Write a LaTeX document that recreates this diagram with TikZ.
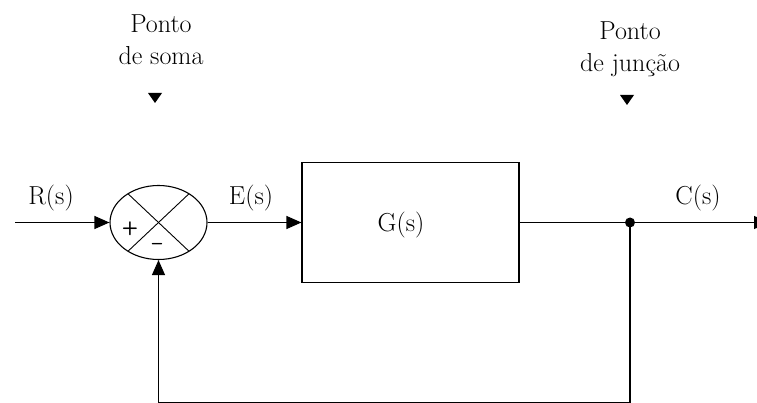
\documentclass[tikz,border=0pt]{standalone}
\usepackage{fontspec}
\usetikzlibrary{arrows.meta,shapes.geometric}
\begin{document}
\begin{tikzpicture}[x=1pt,y=-1pt,line width=1.1pt,
  lbl/.style={font=\fontsize{26}{32}\selectfont,inner sep=0pt},
  sgn/.style={font=\fontsize{19}{21}\selectfont\sffamily\bfseries,inner sep=0pt},
  conn/.style={-{Triangle[length=15pt,width=13pt]}},
  sumnode/.style={draw,ellipse,minimum width=97pt,minimum height=74pt,inner sep=0pt},
  block/.style={draw,minimum width=217pt,minimum height=120pt,inner sep=0pt},
  dotnode/.style={circle,fill,minimum size=10pt,inner sep=0pt}]
\useasboundingbox (0,0) rectangle (757,403);
% blocks
\node[sumnode] (s) at (158.5,222.5) {};
\node[block] (g) at (410.5,222.5) {};
\node[dotnode] (jd) at (630,222.5) {};
\coordinate (in) at (15,222.5);
\coordinate (out) at (769,222.5);
\coordinate (fb) at (630,402.8);
% cross in summing junction
\draw[line width=0.9pt] ([shift={(51:48.5 and 37)}]s.center) -- ([shift={(231:48.5 and 37)}]s.center);
\draw[line width=0.9pt] ([shift={(129:48.5 and 37)}]s.center) -- ([shift={(309:48.5 and 37)}]s.center);
\node[sgn] (plus) at (130,229) {+};
\node[sgn] (minus) at (157,246) {–};
% connectors
\draw[conn] (in) -- (s.west);
\draw[conn] (s.east) -- (g.west);
\draw (g.east) -- (jd.center);
\draw[conn] (jd.center) -- (out);
\draw[conn] (jd.center) -- (fb) -| (s.south);
% labels
\node[lbl,anchor=base] (r) at (51,205) {R(s)};
\node[lbl,anchor=base] (e) at (251,205) {E(s)};
\node[lbl,anchor=base] (c) at (698,205) {C(s)};
\node[lbl,anchor=base] (gl) at (401,232) {G(s)};
\node[lbl,anchor=north,align=center] (ps) at (161,14) {Ponto\\de soma};
\node[lbl,anchor=north,align=center] (pj) at (630,21) {Ponto\\de junção};
% pointer marks
\coordinate (m1) at (155,103);
\coordinate (m2) at (627,105);
\fill (m1) -- ++(-7,-10) -- ++(14,0) -- cycle;
\fill (m2) -- ++(-7,-10) -- ++(14,0) -- cycle;
\end{tikzpicture}
\end{document}
